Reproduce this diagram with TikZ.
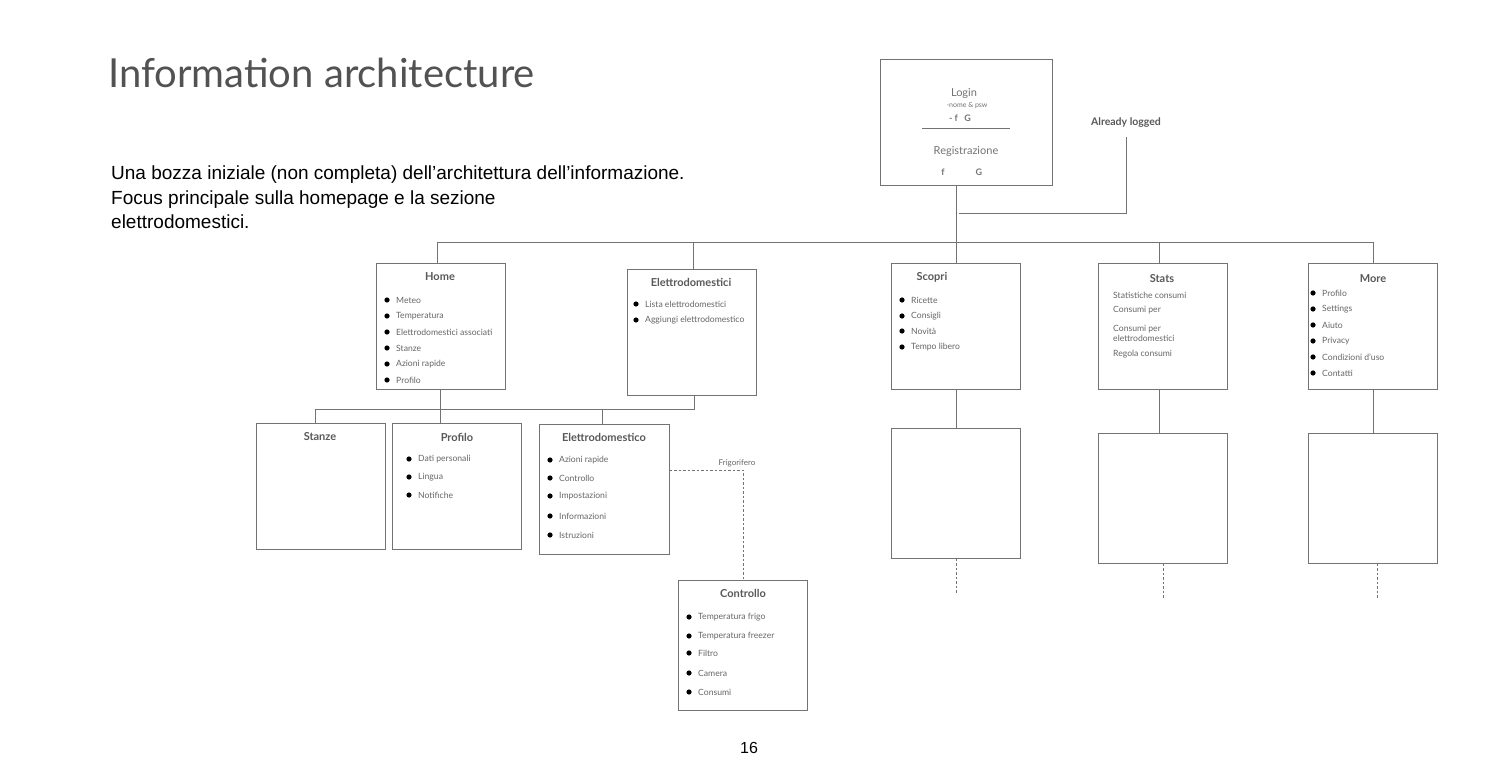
\documentclass[tikz,border=0pt]{standalone}
\usepackage{fontspec}
\setmainfont{Lato}
\newfontfamily\helv{Liberation Sans}
\begin{document}
\begin{tikzpicture}[x=1pt,y=-1pt,
  box/.style={draw=black!55,line width=0.9pt,anchor=north west,minimum width=129pt,minimum height=126pt,inner sep=0},
  ln/.style={draw=black!55,line width=0.9pt},
  dsh/.style={draw=black!55,line width=0.8pt,dash pattern=on 2.5pt off 2pt},
  ttl/.style={text=black!65,font=\fontsize{11}{12}\selectfont\bfseries,inner sep=0},
  itm/.style={text=black!60,font=\fontsize{8.6}{10}\selectfont,anchor=west,inner sep=0},
  lg/.style={text=black!55,inner sep=0}]
\newcommand\bit[3]{\fill (#1,#2) circle (2.6); \node[itm] at (#1+9,#2) {#3};}
\useasboundingbox (0,0) rectangle (1500,770);
\fill[white] (0,0) rectangle (1500,770);
% title & text
\node[anchor=base west,inner sep=0,text=black!68,font=\fontsize{40}{44}\selectfont] (title) at (108,88) {Information architecture};
\node[anchor=north west,inner sep=0,align=left,font=\helv\fontsize{19}{24.5}\selectfont] (para) at (111,166) {Una bozza iniziale (non completa) dell’architettura dell’informazione.\\Focus principale sulla homepage e la sezione\\elettrodomestici.};
\node[font=\helv\fontsize{16}{18}\selectfont,inner sep=0] (pg) at (749,748) {16};
% login
\node[box,minimum width=172pt,minimum height=126pt] (login) at (880,59) {};
\node[lg,font=\fontsize{11}{12}\selectfont] (l1) at (964,93) {Login};
\node[lg,font=\fontsize{7}{8}\selectfont] (l2) at (967,106) {-nome \& psw};
\node[lg,font=\fontsize{9}{10}\selectfont\bfseries] (l3) at (960,118) {- f \ \ G};
\draw[ln] (922,128) -- (1010,128);
\node[lg,font=\fontsize{11}{12}\selectfont] (l4) at (966,151) {Registrazione};
\node[lg,font=\fontsize{9}{10}\selectfont\bfseries] (l5) at (943,172) {f};
\node[lg,font=\fontsize{9}{10}\selectfont\bfseries] (l6) at (979,172) {G};
\node[ttl,font=\fontsize{10.5}{12}\selectfont\bfseries] (al) at (1126,123) {Already logged};
\coordinate (ab) at (1126,137);
\draw[ln] (ab) -- (1126,213) -- (959,213);
% level 1 boxes
\node[box] (home) at (376,263) {};
\node[box] (elettro) at (627,269) {};
\node[box] (scopri) at (891,263) {};
\node[box] (stats) at (1098,263) {};
\node[box] (more) at (1308,263) {};
\coordinate (b1) at (437,242); \coordinate (b2) at (1373,242);
\draw[ln] (login.south -| 956,0) -- (956,242);
\draw[ln] (b1) -- (b2);
\draw[ln] (b1) -- (b1 |- home.north);
\draw[ln] (693,242) -- (elettro.north -| 693,0);
\draw[ln] (956,242) -- (scopri.north -| 956,0);
\draw[ln] (1159,242) -- (stats.north -| 1159,0);
\draw[ln] (b2) -- (more.north -| b2);
% home
\node[ttl] (th) at (440,277) {Home};
\bit{387}{300}{Meteo}\bit{387}{316}{Temperatura}\bit{387}{332}{Elettrodomestici associati}
\bit{387}{348}{Stanze}\bit{387}{364}{Azioni rapide}\bit{387}{380}{Profilo}
% elettrodomestici
\node[ttl] (te) at (691,282) {Elettrodomestici};
\bit{636}{304}{Lista elettrodomestici}\bit{636}{320}{Aggiungi elettrodomestico}
% scopri
\node[ttl] (ts) at (932,277) {Scopri};
\bit{902}{300}{Ricette}\bit{902}{316}{Consigli}\bit{902}{331}{Novità}\bit{902}{347}{Tempo libero}
% stats
\node[ttl] (tst) at (1162,279) {Stats};
\node[itm] (s1) at (1113,295) {Statistiche consumi};
\node[itm] (s2) at (1113,310) {Consumi per};
\node[itm,align=left,font=\fontsize{8.6}{10}\selectfont] (s3) at (1113,333) {Consumi per\\elettrodomestici};
\node[itm] (s4) at (1113,354) {Regola consumi};
% more
\node[ttl] (tm) at (1373,279) {More};
\bit{1313}{293}{Profilo}\bit{1313}{309}{Settings}\bit{1313}{325}{Aiuto}
\bit{1313}{341}{Privacy}\bit{1313}{357}{Condizioni d’uso}\bit{1313}{373}{Contatti}
% level 2
\node[box] (stanze) at (256,423) {};
\node[box] (profilo) at (392,423) {};
\node[box,minimum height=130pt,minimum width=130pt] (eld) at (539,424) {};
\draw[ln] (home.south -| 440,0) -- (440,409);
\draw[ln] (elettro.south -| 694,0) -- (694,409) -- (315,409) -- (stanze.north -| 315,0);
\draw[ln] (440,409) -- (profilo.north -| 440,0);
\draw[ln] (602,409) -- (eld.north -| 602,0);
\node[ttl] (tsz) at (320,437) {Stanze};
\node[ttl] (tp) at (457,437) {Profilo};
\bit{409}{459}{Dati personali}\bit{409}{477}{Lingua}\bit{409}{495}{Notifiche}
\node[ttl] (ted) at (604,437) {Elettrodomestico};
\bit{550}{460}{Azioni rapide}\bit{550}{478}{Controllo}\bit{550}{496}{Impostazioni}
\bit{550}{516}{Informazioni}\bit{550}{535}{Istruzioni}
\node[itm,anchor=center,font=\fontsize{8}{9}\selectfont] (frig) at (737,463) {Frigorifero};
\node[box,minimum height=130pt] (ctrl) at (678,580) {};
\draw[dsh] (eld.east |- 0,470) -- (743,470) -- (ctrl.north -| 743,0);
\node[ttl] (tc) at (743,593) {Controllo};
\bit{689}{617}{Temperatura frigo}\bit{689}{636}{Temperatura freezer}\bit{689}{653}{Filtro}
\bit{689}{673}{Camera}\bit{689}{692}{Consumi}
% lower right boxes
\node[box,minimum height=130pt] (sc2) at (891,428) {};
\node[box,minimum height=130pt] (st2) at (1098,433) {};
\node[box,minimum height=130pt] (mo2) at (1308,433) {};
\draw[ln] (scopri.south -| 956,0) -- (sc2.north -| 956,0);
\draw[ln] (stats.south -| 1159,0) -- (st2.north -| 1159,0);
\draw[ln] (more.south -| 1373,0) -- (mo2.north -| 1373,0);
\coordinate (d1) at (956,594); \coordinate (d2) at (1163,598); \coordinate (d3) at (1377,598);
\draw[dsh] (sc2.south -| d1) -- (d1);
\draw[dsh] (st2.south -| d2) -- (d2);
\draw[dsh] (mo2.south -| d3) -- (d3);
\end{tikzpicture}
\end{document}
